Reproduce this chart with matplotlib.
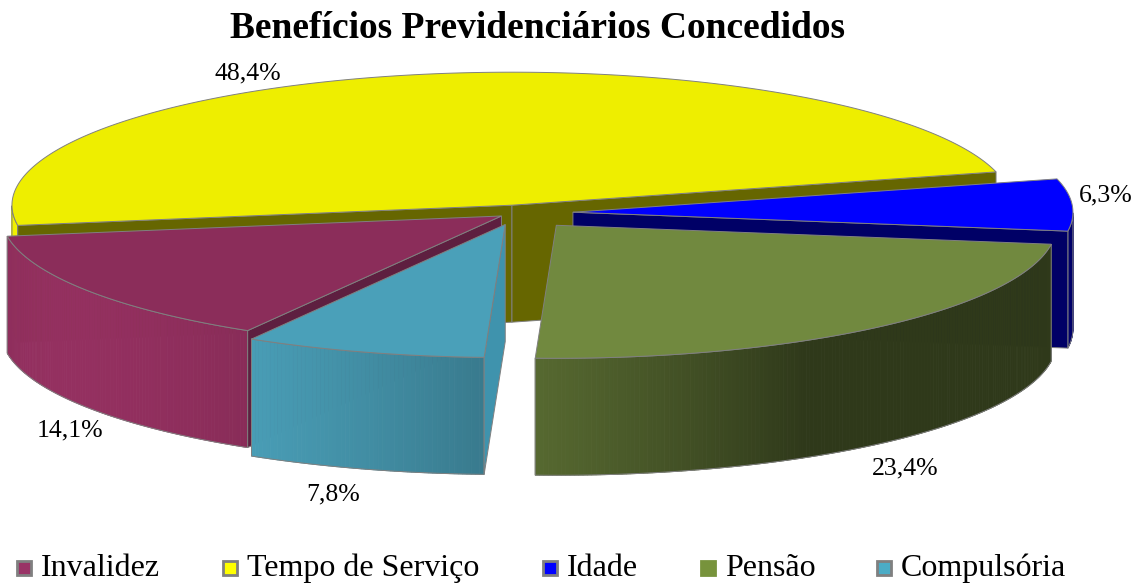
import numpy as np
import matplotlib
matplotlib.use("Agg")
import matplotlib.pyplot as plt
from matplotlib.patches import Polygon, Rectangle
from matplotlib.colors import to_rgb

# data
labels = ["Invalidez", "Tempo de Serviço", "Idade", "Pensão", "Compulsória"]
values = [14.1, 48.4, 6.3, 23.4, 7.8]
value_text = ["14,1%", "48,4%", "6,3%", "23,4%", "7,8%"]
top_colors = ["#8B2D5A", "#EEEE00", "#0000FF", "#71893F", "#4AA0B9"]
wall_colors = ["#5E1F40", "#666600", "#000066", "#4A5A2A", "#3F93AD"]
legend_colors = ["#993366", "#FFFF00", "#0000FF", "#77933C", "#4BACC6"]
legend_edges = ["#808080", "#808080", "#808080", "#77933C", "#808080"]

# layout (pixel coordinates, y downwards)
W, H = 1140, 585
cx, cy = 518, 213          # pie centre (top face)
rx, ry = 500, 133          # top ellipse radii
depth = 117
start_angle = -120.5       # first slice starts here, goes clockwise
explode = [0.04, 0.06, 0.11, 0.12, 0.09]
label_pos = [(70, 430), (248, 73), (1106, 195), (905, 468), (333, 494)]
legend_x = [16, 222, 542, 700, 876]
legend_y = 568
light = -150.0
EDGE = "#808080"

fig = plt.figure(figsize=(W / 100, H / 100), dpi=100)
ax = fig.add_axes([0, 0, 1, 1])
ax.set_xlim(0, W)
ax.set_ylim(H, 0)
ax.axis("off")

serif = ["Liberation Serif", "DejaVu Serif"]


def shade(color, t):
    f = 0.415 + 0.65 * max(0.0, np.cos(np.radians(t - light)))
    return tuple(min(1.0, c * f) for c in to_rgb(color))


def rim(vx, vy, t, down=0.0):
    r = np.radians(t)
    return vx + rx * np.cos(r), vy - ry * np.sin(r) + down


# slice geometry
slices = []
a = start_angle
for i, v in enumerate(values):
    hi, lo = a, a - v * 3.6
    a = lo
    mid = np.radians((hi + lo) / 2)
    vx = cx + explode[i] * rx * np.cos(mid)
    vy = cy - explode[i] * ry * np.sin(mid)
    slices.append((i, hi, lo, vx, vy, -np.sin(mid)))

# back to front
for i, hi, lo, vx, vy, _ in sorted(slices, key=lambda s: s[5]):
    # outer curved wall, front half only
    ts = np.linspace(lo, hi, int(abs(hi - lo) * 2) + 2)
    vis = np.sin(np.radians(ts)) < 0
    seg = ts[vis]
    if len(seg) > 1:
        for t0, t1 in zip(seg[:-1], seg[1:]):
            p = [rim(vx, vy, t0), rim(vx, vy, t1), rim(vx, vy, t1, depth), rim(vx, vy, t0, depth)]
            c = shade(top_colors[i], (t0 + t1) / 2)
            ax.add_patch(Polygon(p, closed=True, fc=c, ec=c, lw=0.6))
        outline = [rim(vx, vy, t) for t in seg] + [rim(vx, vy, t, depth) for t in seg[::-1]]
        ax.add_patch(Polygon(outline, closed=True, fill=False, ec=EDGE, lw=0.7))

    # radial walls
    for t, visible in ((hi, np.cos(np.radians(hi)) < 0), (lo, np.cos(np.radians(lo)) > 0)):
        if visible:
            px, py = rim(vx, vy, t)
            p = [(vx, vy), (px, py), (px, py + depth), (vx, vy + depth)]
            ax.add_patch(Polygon(p, closed=True, fc=wall_colors[i], ec=EDGE, lw=0.7))

    # top face
    ts = np.linspace(lo, hi, 200)
    p = [(vx, vy)] + [rim(vx, vy, t) for t in ts]
    ax.add_patch(Polygon(p, closed=True, fc=top_colors[i], ec=EDGE, lw=0.7))

# value labels
for (x, y), s in zip(label_pos, value_text):
    ax.text(x, y, s, ha="center", va="center", fontsize=18.5, family=serif, color="black")

# title
ax.text(538, 28, "Benefícios Previdenciários Concedidos", ha="center", va="center",
        fontsize=27, fontweight="bold", family=serif)

# legend
for x, lab, col, ec in zip(legend_x, labels, legend_colors, legend_edges):
    ax.add_patch(Rectangle((x + 1, legend_y - 7), 14, 14, fc=col, ec=ec, lw=2))
    ax.text(x + 25, legend_y, lab, ha="left", va="center", fontsize=23, family=serif)

fig.savefig("out.png", dpi=100)
